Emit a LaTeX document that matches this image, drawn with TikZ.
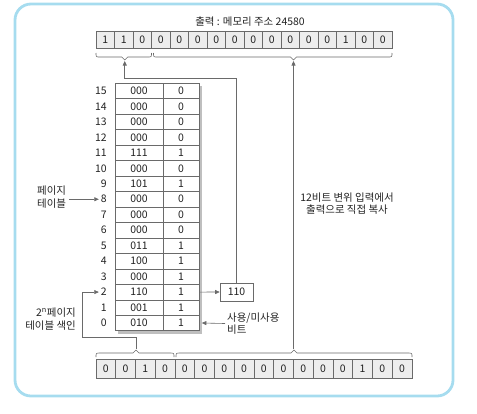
\documentclass[tikz,border=0pt]{standalone}
\usepackage{fontspec}
\setmainfont{Noto Sans CJK KR}
\usetikzlibrary{arrows.meta,calc}
\definecolor{framecol}{HTML}{A6DCEF}
\definecolor{linecol}{HTML}{6A6A6A}
\definecolor{cellfill}{HTML}{EDEDED}
\definecolor{txt}{HTML}{222222}
\newcommand\TopBrace[4]{% x1,x2,y,tipx
  \draw[brc] (#1,#3-4) .. controls (#1,#3) .. (#1+4,#3) -- (#4-3,#3) -- (#4,#3+3) -- (#4+3,#3) -- (#2-4,#3) .. controls (#2,#3) .. (#2,#3-4);}
\newcommand\BotBrace[4]{% x1,x2,y,tipx
  \draw[brc] (#1,#3+4) .. controls (#1,#3) .. (#1+4,#3) -- (#4-3,#3) -- (#4,#3-3) -- (#4+3,#3) -- (#2-4,#3) .. controls (#2,#3) .. (#2,#3+4);}
\begin{document}
\begin{tikzpicture}[x=1bp,y=-1bp,
  every node/.style={font=\fontsize{10.5}{12.5}\selectfont, text=txt},
  regcell/.style={draw=linecol, fill=cellfill, line width=0.6bp, inner sep=0pt, minimum height=17bp},
  tabcell/.style={draw=linecol, fill=white, line width=0.6bp, inner sep=0pt, minimum height=15.47bp},
  brc/.style={draw=linecol, line width=0.6bp},
  arr/.style={draw=linecol, line width=0.6bp, -{Triangle[length=4.5bp,width=4bp]}},
  ln/.style={draw=linecol, line width=0.6bp}]
\useasboundingbox (0,0) rectangle (477,413);
% frame
\draw[framecol, line width=2.8bp, rounded corners=16bp] (15,4) rectangle (453,396);
% title
\node (title) at (250,22) {출력 : 메모리 주소 24580};
% output register
\foreach \b [count=\i from 0] in {1,1,0,0,0,0,0,0,0,0,0,0,0,1,0,0}
  \node[regcell, minimum width=18.5bp] (o\i) at ({96+18.5*\i+9.25},39.5) {\b};
% input register
\foreach \b [count=\i from 0] in {0,0,1,0,0,0,0,0,0,0,0,0,0,1,0,0}
  \node[regcell, minimum width=19.75bp, minimum height=19bp] (n\i) at ({96+19.75*\i+9.875},368.5) {\b};
% braces
\TopBrace{96}{151.5}{57}{124.75}
\TopBrace{153.5}{392}{57}{293.5}
\BotBrace{96}{174}{353}{136}
\BotBrace{176}{412}{353}{294}
\coordinate (t1) at (124.75,61);
\coordinate (t2) at (293.5,61);
\coordinate (b1) at (136,349);
\coordinate (b2) at (293.5,349);
% page table shadow
\fill[gray!50] (117.5,85.5) rectangle (201.5,333.5);
% page table
\foreach \r/\f/\u in {15/000/0,14/000/0,13/000/0,12/000/0,11/111/1,10/000/0,9/101/1,8/000/0,7/000/0,6/000/0,5/011/1,4/100/1,3/000/1,2/110/1,1/001/1,0/010/1}{
  \node[tabcell, minimum width=48bp] (pf\r) at (139,{323-15.47*\r}) {\f};
  \node[tabcell, minimum width=36bp] (pu\r) at (181,{323-15.47*\r}) {\u};
  \node[anchor=east, inner sep=0pt] (lab\r) at (107,{323-15.47*\r}) {\r};
}
% frame register box
\node[draw=linecol, fill=white, line width=0.6bp, minimum width=33bp, minimum height=18bp, inner sep=0pt] (frm) at (236.5,292) {110};
% labels
\node[align=left, anchor=west, inner sep=0pt] (ptlab) at (37,197) {페이지\\테이블};
\node[align=right, anchor=east, inner sep=0pt] (idxlab) at (76,319) {2\textsuperscript{n}페이지\\테이블 색인};
\node[align=left, anchor=west, inner sep=0pt] (ulab) at (227,323.5) {사용/미사용\\비트};
\node[align=center] (cplab) at (347,203.5) {12비트 변위 입력에서\\출력으로 직접 복사};
% connectors
\coordinate (cA) at (124.75,78);
\coordinate (cB) at (82,337);
\draw[arr] (frm.north) |- (cA) -- (t1);
\draw[arr] (b2) -- (t2);
\draw[arr] (b1) |- (cB) |- ([xshift=-2bp]lab2.west);
\draw[arr] (pu2.east) -- (frm.west);
\draw[arr] ([xshift=-2bp]ulab.west) -- ([xshift=2.5bp]pu0.east);
\draw[arr] ([xshift=3bp]ptlab.east |- lab8.west) -- ([xshift=-2bp]lab8.west);
\end{tikzpicture}
\end{document}
